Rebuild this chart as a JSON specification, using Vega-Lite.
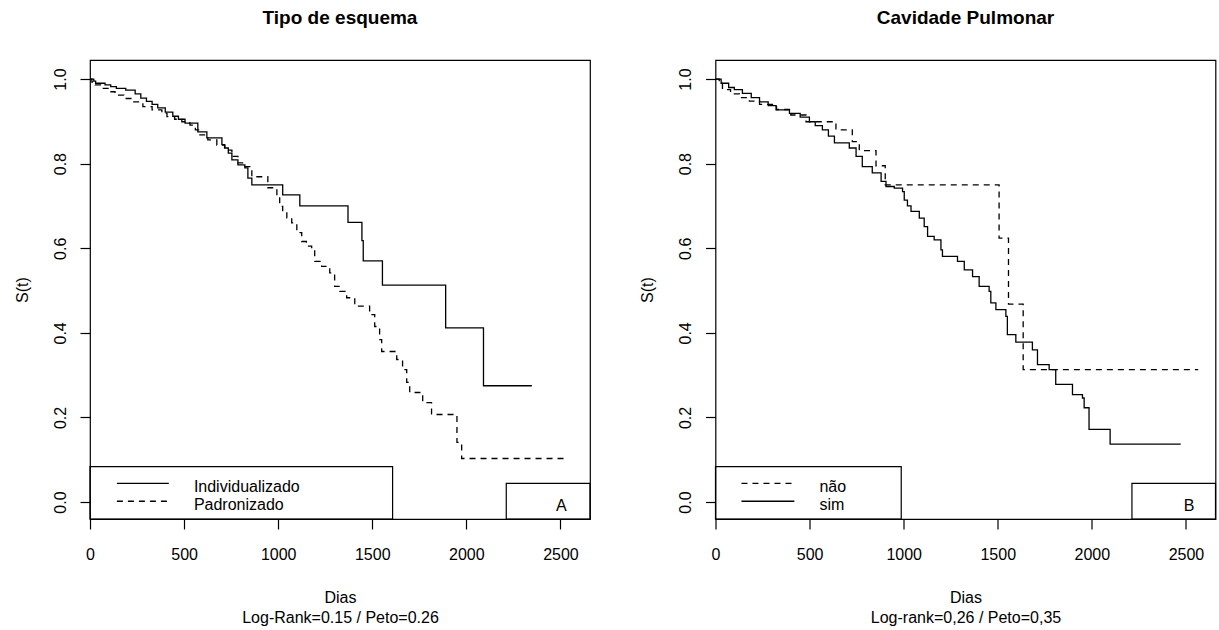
{
  "$schema": "https://vega.github.io/schema/vega-lite/v6.json",
  "background": "white",
  "padding": {"left": 13, "top": 8, "right": 0, "bottom": 0},
  "spacing": 46.5,
  "resolve": {"scale": {"strokeDash": "independent"}},
  "datasets": {
    "esquema": [
      {"dias": 0, "s": 1, "grupo": "Individualizado"},
      {"dias": 20, "s": 0.995, "grupo": "Individualizado"},
      {"dias": 30, "s": 0.99, "grupo": "Individualizado"},
      {"dias": 80, "s": 0.986, "grupo": "Individualizado"},
      {"dias": 110, "s": 0.982, "grupo": "Individualizado"},
      {"dias": 140, "s": 0.978, "grupo": "Individualizado"},
      {"dias": 190, "s": 0.974, "grupo": "Individualizado"},
      {"dias": 240, "s": 0.965, "grupo": "Individualizado"},
      {"dias": 270, "s": 0.955, "grupo": "Individualizado"},
      {"dias": 300, "s": 0.947, "grupo": "Individualizado"},
      {"dias": 330, "s": 0.94, "grupo": "Individualizado"},
      {"dias": 360, "s": 0.932, "grupo": "Individualizado"},
      {"dias": 400, "s": 0.922, "grupo": "Individualizado"},
      {"dias": 440, "s": 0.912, "grupo": "Individualizado"},
      {"dias": 470, "s": 0.905, "grupo": "Individualizado"},
      {"dias": 505, "s": 0.896, "grupo": "Individualizado"},
      {"dias": 573, "s": 0.875, "grupo": "Individualizado"},
      {"dias": 621, "s": 0.861, "grupo": "Individualizado"},
      {"dias": 701, "s": 0.845, "grupo": "Individualizado"},
      {"dias": 715, "s": 0.837, "grupo": "Individualizado"},
      {"dias": 735, "s": 0.825, "grupo": "Individualizado"},
      {"dias": 754, "s": 0.809, "grupo": "Individualizado"},
      {"dias": 786, "s": 0.797, "grupo": "Individualizado"},
      {"dias": 823, "s": 0.79, "grupo": "Individualizado"},
      {"dias": 839, "s": 0.766, "grupo": "Individualizado"},
      {"dias": 860, "s": 0.75, "grupo": "Individualizado"},
      {"dias": 1024, "s": 0.726, "grupo": "Individualizado"},
      {"dias": 1115, "s": 0.7, "grupo": "Individualizado"},
      {"dias": 1371, "s": 0.661, "grupo": "Individualizado"},
      {"dias": 1445, "s": 0.618, "grupo": "Individualizado"},
      {"dias": 1452, "s": 0.57, "grupo": "Individualizado"},
      {"dias": 1554, "s": 0.513, "grupo": "Individualizado"},
      {"dias": 1890, "s": 0.412, "grupo": "Individualizado"},
      {"dias": 2091, "s": 0.275, "grupo": "Individualizado"},
      {"dias": 2348, "s": 0.275, "grupo": "Individualizado"},
      {"dias": 0, "s": 1, "grupo": "Padronizado"},
      {"dias": 10, "s": 0.993, "grupo": "Padronizado"},
      {"dias": 27, "s": 0.986, "grupo": "Padronizado"},
      {"dias": 60, "s": 0.978, "grupo": "Padronizado"},
      {"dias": 100, "s": 0.97, "grupo": "Padronizado"},
      {"dias": 133, "s": 0.962, "grupo": "Padronizado"},
      {"dias": 180, "s": 0.954, "grupo": "Padronizado"},
      {"dias": 223, "s": 0.946, "grupo": "Padronizado"},
      {"dias": 281, "s": 0.935, "grupo": "Padronizado"},
      {"dias": 330, "s": 0.927, "grupo": "Padronizado"},
      {"dias": 382, "s": 0.919, "grupo": "Padronizado"},
      {"dias": 409, "s": 0.911, "grupo": "Padronizado"},
      {"dias": 450, "s": 0.905, "grupo": "Padronizado"},
      {"dias": 488, "s": 0.899, "grupo": "Padronizado"},
      {"dias": 531, "s": 0.891, "grupo": "Padronizado"},
      {"dias": 560, "s": 0.88, "grupo": "Padronizado"},
      {"dias": 584, "s": 0.868, "grupo": "Padronizado"},
      {"dias": 626, "s": 0.856, "grupo": "Padronizado"},
      {"dias": 674, "s": 0.844, "grupo": "Padronizado"},
      {"dias": 717, "s": 0.832, "grupo": "Padronizado"},
      {"dias": 754, "s": 0.817, "grupo": "Padronizado"},
      {"dias": 786, "s": 0.802, "grupo": "Padronizado"},
      {"dias": 823, "s": 0.793, "grupo": "Padronizado"},
      {"dias": 849, "s": 0.785, "grupo": "Padronizado"},
      {"dias": 860, "s": 0.769, "grupo": "Padronizado"},
      {"dias": 945, "s": 0.743, "grupo": "Padronizado"},
      {"dias": 982, "s": 0.738, "grupo": "Padronizado"},
      {"dias": 993, "s": 0.722, "grupo": "Padronizado"},
      {"dias": 1008, "s": 0.699, "grupo": "Padronizado"},
      {"dias": 1024, "s": 0.687, "grupo": "Padronizado"},
      {"dias": 1046, "s": 0.672, "grupo": "Padronizado"},
      {"dias": 1072, "s": 0.66, "grupo": "Padronizado"},
      {"dias": 1099, "s": 0.637, "grupo": "Padronizado"},
      {"dias": 1125, "s": 0.616, "grupo": "Padronizado"},
      {"dias": 1150, "s": 0.605, "grupo": "Padronizado"},
      {"dias": 1178, "s": 0.596, "grupo": "Padronizado"},
      {"dias": 1194, "s": 0.569, "grupo": "Padronizado"},
      {"dias": 1231, "s": 0.557, "grupo": "Padronizado"},
      {"dias": 1274, "s": 0.542, "grupo": "Padronizado"},
      {"dias": 1300, "s": 0.51, "grupo": "Padronizado"},
      {"dias": 1327, "s": 0.498, "grupo": "Padronizado"},
      {"dias": 1364, "s": 0.483, "grupo": "Padronizado"},
      {"dias": 1407, "s": 0.463, "grupo": "Padronizado"},
      {"dias": 1486, "s": 0.443, "grupo": "Padronizado"},
      {"dias": 1513, "s": 0.415, "grupo": "Padronizado"},
      {"dias": 1539, "s": 0.384, "grupo": "Padronizado"},
      {"dias": 1550, "s": 0.356, "grupo": "Padronizado"},
      {"dias": 1630, "s": 0.337, "grupo": "Padronizado"},
      {"dias": 1661, "s": 0.313, "grupo": "Padronizado"},
      {"dias": 1683, "s": 0.283, "grupo": "Padronizado"},
      {"dias": 1699, "s": 0.259, "grupo": "Padronizado"},
      {"dias": 1768, "s": 0.235, "grupo": "Padronizado"},
      {"dias": 1815, "s": 0.207, "grupo": "Padronizado"},
      {"dias": 1950, "s": 0.141, "grupo": "Padronizado"},
      {"dias": 1975, "s": 0.103, "grupo": "Padronizado"},
      {"dias": 2532, "s": 0.103, "grupo": "Padronizado"}
    ],
    "cavidade": [
      {"dias": 0, "s": 1, "grupo": "não"},
      {"dias": 20, "s": 0.99, "grupo": "não"},
      {"dias": 37, "s": 0.975, "grupo": "não"},
      {"dias": 80, "s": 0.965, "grupo": "não"},
      {"dias": 127, "s": 0.956, "grupo": "não"},
      {"dias": 180, "s": 0.948, "grupo": "não"},
      {"dias": 234, "s": 0.94, "grupo": "não"},
      {"dias": 324, "s": 0.928, "grupo": "não"},
      {"dias": 400, "s": 0.915, "grupo": "não"},
      {"dias": 481, "s": 0.899, "grupo": "não"},
      {"dias": 640, "s": 0.88, "grupo": "não"},
      {"dias": 727, "s": 0.852, "grupo": "não"},
      {"dias": 764, "s": 0.831, "grupo": "não"},
      {"dias": 853, "s": 0.795, "grupo": "não"},
      {"dias": 902, "s": 0.75, "grupo": "não"},
      {"dias": 1507, "s": 0.624, "grupo": "não"},
      {"dias": 1557, "s": 0.468, "grupo": "não"},
      {"dias": 1635, "s": 0.313, "grupo": "não"},
      {"dias": 2565, "s": 0.313, "grupo": "não"},
      {"dias": 0, "s": 1, "grupo": "sim"},
      {"dias": 30, "s": 0.99, "grupo": "sim"},
      {"dias": 70, "s": 0.98, "grupo": "sim"},
      {"dias": 100, "s": 0.975, "grupo": "sim"},
      {"dias": 143, "s": 0.966, "grupo": "sim"},
      {"dias": 190, "s": 0.956, "grupo": "sim"},
      {"dias": 234, "s": 0.946, "grupo": "sim"},
      {"dias": 280, "s": 0.937, "grupo": "sim"},
      {"dias": 322, "s": 0.927, "grupo": "sim"},
      {"dias": 393, "s": 0.919, "grupo": "sim"},
      {"dias": 450, "s": 0.91, "grupo": "sim"},
      {"dias": 499, "s": 0.899, "grupo": "sim"},
      {"dias": 530, "s": 0.89, "grupo": "sim"},
      {"dias": 568, "s": 0.88, "grupo": "sim"},
      {"dias": 600, "s": 0.865, "grupo": "sim"},
      {"dias": 632, "s": 0.849, "grupo": "sim"},
      {"dias": 711, "s": 0.837, "grupo": "sim"},
      {"dias": 747, "s": 0.817, "grupo": "sim"},
      {"dias": 780, "s": 0.793, "grupo": "sim"},
      {"dias": 833, "s": 0.778, "grupo": "sim"},
      {"dias": 880, "s": 0.758, "grupo": "sim"},
      {"dias": 906, "s": 0.746, "grupo": "sim"},
      {"dias": 950, "s": 0.742, "grupo": "sim"},
      {"dias": 994, "s": 0.734, "grupo": "sim"},
      {"dias": 1003, "s": 0.714, "grupo": "sim"},
      {"dias": 1020, "s": 0.7, "grupo": "sim"},
      {"dias": 1039, "s": 0.687, "grupo": "sim"},
      {"dias": 1083, "s": 0.671, "grupo": "sim"},
      {"dias": 1109, "s": 0.651, "grupo": "sim"},
      {"dias": 1127, "s": 0.628, "grupo": "sim"},
      {"dias": 1162, "s": 0.62, "grupo": "sim"},
      {"dias": 1198, "s": 0.596, "grupo": "sim"},
      {"dias": 1206, "s": 0.581, "grupo": "sim"},
      {"dias": 1286, "s": 0.569, "grupo": "sim"},
      {"dias": 1322, "s": 0.549, "grupo": "sim"},
      {"dias": 1366, "s": 0.533, "grupo": "sim"},
      {"dias": 1401, "s": 0.51, "grupo": "sim"},
      {"dias": 1454, "s": 0.498, "grupo": "sim"},
      {"dias": 1463, "s": 0.471, "grupo": "sim"},
      {"dias": 1490, "s": 0.455, "grupo": "sim"},
      {"dias": 1543, "s": 0.439, "grupo": "sim"},
      {"dias": 1551, "s": 0.396, "grupo": "sim"},
      {"dias": 1596, "s": 0.378, "grupo": "sim"},
      {"dias": 1684, "s": 0.36, "grupo": "sim"},
      {"dias": 1711, "s": 0.325, "grupo": "sim"},
      {"dias": 1773, "s": 0.313, "grupo": "sim"},
      {"dias": 1808, "s": 0.278, "grupo": "sim"},
      {"dias": 1897, "s": 0.254, "grupo": "sim"},
      {"dias": 1950, "s": 0.246, "grupo": "sim"},
      {"dias": 1959, "s": 0.223, "grupo": "sim"},
      {"dias": 1985, "s": 0.172, "grupo": "sim"},
      {"dias": 2097, "s": 0.137, "grupo": "sim"},
      {"dias": 2472, "s": 0.137, "grupo": "sim"}
    ],
    "caixasA": [
      {"x1": 0, "x2": 1608, "y1": -0.04, "y2": 0.084},
      {"x1": 2212, "x2": 2657, "y1": -0.04, "y2": 0.044}
    ],
    "legendaA": [
      {"x1": 143, "x2": 419, "y": 0.044, "tx": 552, "ty": 0.035, "label": "Individualizado", "grupo": "Individualizado"},
      {"x1": 143, "x2": 419, "y": 0.002, "tx": 552, "ty": -0.007, "label": "Padronizado", "grupo": "Padronizado"}
    ],
    "letraA": [{"x": 2505, "y": -0.01, "label": "A"}],
    "caixasB": [
      {"x1": 0, "x2": 987, "y1": -0.04, "y2": 0.084},
      {"x1": 2213, "x2": 2657, "y1": -0.04, "y2": 0.044}
    ],
    "legendaB": [
      {"x1": 138, "x2": 419, "y": 0.044, "tx": 552, "ty": 0.035, "label": "não", "grupo": "não"},
      {"x1": 138, "x2": 419, "y": 0.002, "tx": 552, "ty": -0.007, "label": "sim", "grupo": "sim"}
    ],
    "letraB": [{"x": 2516, "y": -0.01, "label": "B"}]
  },
  "hconcat": [
    {
      "title": "Tipo de esquema",
      "width": 500,
      "height": 459,
      "layer": [
        {
          "data": {"name": "esquema"},
          "mark": {"type": "line", "interpolate": "step-after", "color": "black", "strokeWidth": 1.3},
          "encoding": {
            "x": {"field": "dias", "type": "quantitative", "scale": {"domain": [0, 2657], "nice": false, "zero": false}, "axis": {"values": [0, 500, 1000, 1500, 2000, 2500], "format": "d"}, "title": ["Dias", "Log-Rank=0.15 / Peto=0.26"]},
            "y": {"field": "s", "type": "quantitative", "scale": {"domain": [-0.04, 1.045], "nice": false, "zero": false}, "axis": {"values": [0, 0.2, 0.4, 0.6, 0.8, 1.0], "format": ".1f"}, "title": "S(t)"},
            "detail": {"field": "grupo"},
            "strokeDash": {"field": "grupo", "type": "nominal", "scale": {"domain": ["Individualizado", "Padronizado"], "range": [[1, 0], [6, 5]]}, "legend": null}
          }
        },
        {
          "data": {"name": "caixasA"},
          "mark": {"type": "rect", "fill": null, "stroke": "black", "strokeWidth": 1.2},
          "encoding": {
            "x": {"field": "x1", "type": "quantitative", "title": ["Dias", "Log-Rank=0.15 / Peto=0.26"]},
            "x2": {"field": "x2"},
            "y": {"field": "y1", "type": "quantitative", "title": "S(t)"},
            "y2": {"field": "y2"}
          }
        },
        {
          "data": {"name": "legendaA"},
          "mark": {"type": "rule", "color": "black", "strokeWidth": 1.3},
          "encoding": {
            "x": {"field": "x1", "type": "quantitative", "title": ["Dias", "Log-Rank=0.15 / Peto=0.26"]},
            "x2": {"field": "x2"},
            "y": {"field": "y", "type": "quantitative", "title": "S(t)"},
            "strokeDash": {"field": "grupo", "type": "nominal", "scale": {"domain": ["Individualizado", "Padronizado"], "range": [[1, 0], [6, 5]]}, "legend": null}
          }
        },
        {
          "data": {"name": "legendaA"},
          "mark": {"type": "text", "align": "left", "baseline": "middle", "font": "Liberation Sans", "fontSize": 16, "color": "black"},
          "encoding": {
            "x": {"field": "tx", "type": "quantitative", "title": ["Dias", "Log-Rank=0.15 / Peto=0.26"]},
            "y": {"field": "ty", "type": "quantitative", "title": "S(t)"},
            "text": {"field": "label"}
          }
        },
        {
          "data": {"name": "letraA"},
          "mark": {"type": "text", "align": "center", "baseline": "middle", "font": "Liberation Sans", "fontSize": 16, "color": "black"},
          "encoding": {
            "x": {"field": "x", "type": "quantitative", "title": ["Dias", "Log-Rank=0.15 / Peto=0.26"]},
            "y": {"field": "y", "type": "quantitative", "title": "S(t)"},
            "text": {"field": "label"}
          }
        }
      ]
    },
    {
      "title": "Cavidade Pulmonar",
      "width": 500,
      "height": 459,
      "layer": [
        {
          "data": {"name": "cavidade"},
          "mark": {"type": "line", "interpolate": "step-after", "color": "black", "strokeWidth": 1.3},
          "encoding": {
            "x": {"field": "dias", "type": "quantitative", "scale": {"domain": [0, 2657], "nice": false, "zero": false}, "axis": {"values": [0, 500, 1000, 1500, 2000, 2500], "format": "d"}, "title": ["Dias", "Log-rank=0,26 / Peto=0,35"]},
            "y": {"field": "s", "type": "quantitative", "scale": {"domain": [-0.04, 1.045], "nice": false, "zero": false}, "axis": {"values": [0, 0.2, 0.4, 0.6, 0.8, 1.0], "format": ".1f"}, "title": "S(t)"},
            "detail": {"field": "grupo"},
            "strokeDash": {"field": "grupo", "type": "nominal", "scale": {"domain": ["não", "sim"], "range": [[6, 5], [1, 0]]}, "legend": null}
          }
        },
        {
          "data": {"name": "caixasB"},
          "mark": {"type": "rect", "fill": null, "stroke": "black", "strokeWidth": 1.2},
          "encoding": {
            "x": {"field": "x1", "type": "quantitative", "title": ["Dias", "Log-rank=0,26 / Peto=0,35"]},
            "x2": {"field": "x2"},
            "y": {"field": "y1", "type": "quantitative", "title": "S(t)"},
            "y2": {"field": "y2"}
          }
        },
        {
          "data": {"name": "legendaB"},
          "mark": {"type": "rule", "color": "black", "strokeWidth": 1.3},
          "encoding": {
            "x": {"field": "x1", "type": "quantitative", "title": ["Dias", "Log-rank=0,26 / Peto=0,35"]},
            "x2": {"field": "x2"},
            "y": {"field": "y", "type": "quantitative", "title": "S(t)"},
            "strokeDash": {"field": "grupo", "type": "nominal", "scale": {"domain": ["não", "sim"], "range": [[6, 5], [1, 0]]}, "legend": null}
          }
        },
        {
          "data": {"name": "legendaB"},
          "mark": {"type": "text", "align": "left", "baseline": "middle", "font": "Liberation Sans", "fontSize": 16, "color": "black"},
          "encoding": {
            "x": {"field": "tx", "type": "quantitative", "title": ["Dias", "Log-rank=0,26 / Peto=0,35"]},
            "y": {"field": "ty", "type": "quantitative", "title": "S(t)"},
            "text": {"field": "label"}
          }
        },
        {
          "data": {"name": "letraB"},
          "mark": {"type": "text", "align": "center", "baseline": "middle", "font": "Liberation Sans", "fontSize": 16, "color": "black"},
          "encoding": {
            "x": {"field": "x", "type": "quantitative", "title": ["Dias", "Log-rank=0,26 / Peto=0,35"]},
            "y": {"field": "y", "type": "quantitative", "title": "S(t)"},
            "text": {"field": "label"}
          }
        }
      ]
    }
  ],
  "config": {
    "view": {"stroke": "black", "strokeWidth": 1.2},
    "font": "Liberation Sans",
    "axis": {"grid": false, "domain": false, "ticks": true, "tickColor": "black", "tickSize": 10, "tickWidth": 1.2, "labelFont": "Liberation Sans", "labelFontSize": 16, "labelColor": "black", "titleFont": "Liberation Sans", "titleFontSize": 16, "titleFontWeight": "normal", "titleColor": "black"},
    "axisX": {"labelPadding": 17, "titlePadding": 27, "titleLineHeight": 20, "labelFlush": false},
    "axisY": {"labelAngle": -90, "labelAlign": "center", "labelBaseline": "bottom", "labelPadding": 12, "titlePadding": 22},
    "title": {"font": "Liberation Sans", "fontSize": 19, "fontWeight": "bold", "color": "black", "offset": 32}
  }
}
